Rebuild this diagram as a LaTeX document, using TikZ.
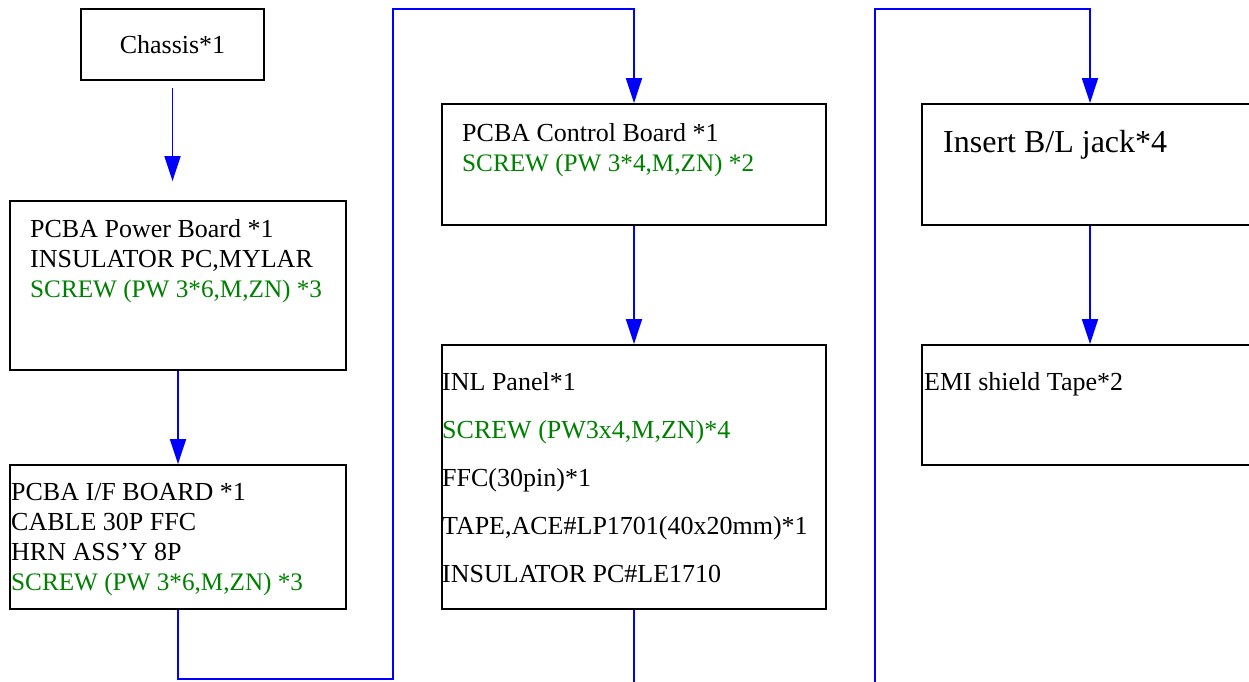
\documentclass[tikz,border=0pt]{standalone}
\usepackage{xcolor}
\usepackage{fontspec}
\setmainfont{Liberation Serif}
\usepackage{tikz}
\usetikzlibrary{arrows.meta}

\definecolor{screwgreen}{RGB}{0,128,0}
\newcommand{\screwline}[1]{{\fontsize{25.2}{30}\selectfont\textcolor{screwgreen}{#1}}}

\tikzset{
	box/.style={draw=black,line width=1.8pt,inner sep=0pt},
	txt/.style={anchor=north west,inner sep=0pt,align=left,font=\fontsize{26}{30}\selectfont},
	flow/.style={draw=blue,line width=1.8pt,-{Triangle[length=25pt,width=16pt]}}
}

\begin{document}
\begin{tikzpicture}[x=1pt,y=-1pt]
\path[use as bounding box,clip] (0,0) rectangle (1249,681);
	% boxes
	\node[box,minimum width=183pt,minimum height=71pt,font=\fontsize{26}{30}\selectfont] (chassis) at (172.5,44.5) {Chassis*1};
	\node[box,minimum width=336pt,minimum height=169pt] (power) at (178,285.5) {};
	\node[box,minimum width=336pt,minimum height=144pt] (iface) at (178,537) {};
	\node[box,minimum width=384pt,minimum height=121pt] (ctrl) at (634,164.5) {};
	\node[box,minimum width=384pt,minimum height=264pt] (inl) at (634,477) {};
	\node[box,minimum width=336pt,minimum height=121pt] (jack) at (1090,164.5) {};
	\node[box,minimum width=336pt,minimum height=120pt] (emi) at (1090,405) {};
	%
	\node[txt] (powertxt) at (30,219) {PCBA Power Board *1\\INSULATOR PC,MYLAR\\\screwline{SCREW (PW 3*6,M,ZN) *3}};
	\node[txt] (ifacetxt) at (11,483) {PCBA I/F BOARD *1\\CABLE 30P FFC\\HRN ASS'Y 8P\\\screwline{SCREW (PW 3*6,M,ZN) *3}};
	\node[txt] (ctrltxt) at (462,123) {PCBA Control Board *1\\\screwline{SCREW (PW 3*4,M,ZN) *2}};
	\node[txt,font=\fontsize{26}{48}\selectfont] (inltxt) at (442,372) {INL Panel*1\\\textcolor{screwgreen}{SCREW (PW3x4,M,ZN)*4}\\FFC(30pin)*1\\TAPE,ACE\#LP1701(40x20mm)*1\\INSULATOR PC\#LE1710};
	\node[txt,font=\fontsize{32}{36}\selectfont] (jacktxt) at (943,130) {Insert B/L jack*4};
	\node[txt] (emitxt) at (924,372) {EMI shield Tape*2};
	%
	\coordinate (k1) at (393,679);
	\coordinate (k2) at (393,9);
	\coordinate (k3) at (875,700);
	\coordinate (k4) at (875,9);
	% connectors
	\draw[flow,shorten <=7pt,shorten >=19pt] (chassis.south) -- (chassis.south |- power.north);
	\draw[flow] (power.south) -- (iface.north);
	\draw[flow] (iface.south) |- (k1) -- (k2) -| (ctrl.north);
	\draw[flow] (ctrl.south) -- (inl.north);
	\draw[flow] (inl.south) |- (k3) -- (k4) -| (jack.north);
	\draw[flow] (jack.south) -- (emi.north);
\end{tikzpicture}
\end{document}
